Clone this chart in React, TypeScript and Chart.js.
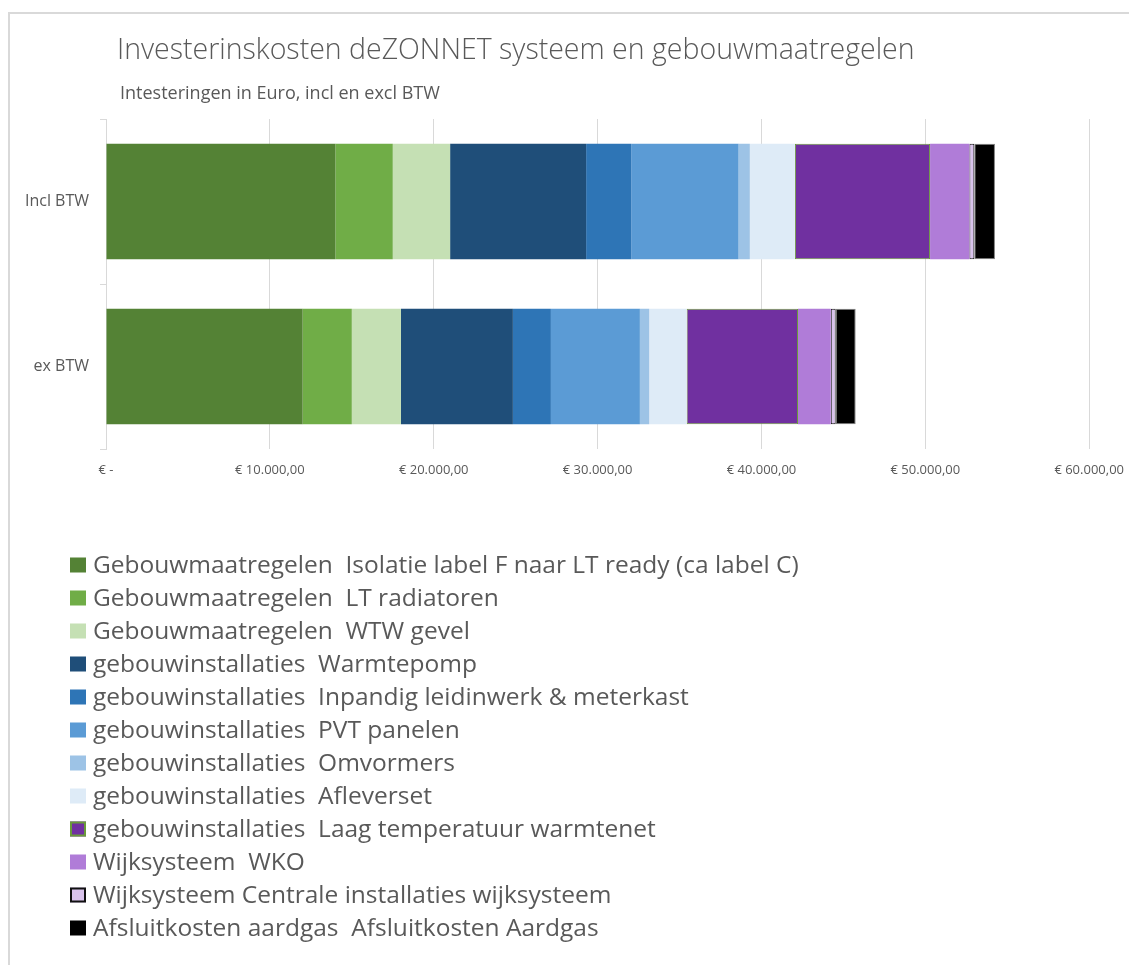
import React, { useEffect, useRef } from "react";
import { Chart, registerables } from "chart.js";

Chart.register(...registerables);

const titleText = "Investerinskosten deZONNET systeem en gebouwmaatregelen";
const subtitleText = "Intesteringen in Euro, incl en excl BTW";

const categories = ["Incl BTW", "ex BTW"];

const seriesLabels = [
  "Gebouwmaatregelen  Isolatie label F naar LT ready (ca label C)",
  "Gebouwmaatregelen  LT radiatoren",
  "Gebouwmaatregelen  WTW gevel",
  "gebouwinstallaties  Warmtepomp",
  "gebouwinstallaties  Inpandig leidinwerk & meterkast",
  "gebouwinstallaties  PVT panelen",
  "gebouwinstallaties  Omvormers",
  "gebouwinstallaties  Afleverset",
  "gebouwinstallaties  Laag temperatuur warmtenet",
  "Wijksysteem  WKO",
  "Wijksysteem Centrale installaties wijksysteem",
  "Afsluitkosten aardgas  Afsluitkosten Aardgas",
];

const isolatie = [14000, 12000];
const ltRadiatoren = [3500, 3000];
const wtwGevel = [3500, 3000];
const warmtepomp = [8300, 6830];
const inpandig = [2750, 2320];
const pvtPanelen = [6550, 5430];
const omvormers = [690, 570];
const afleverset = [2750, 2280];
const warmtenet = [8250, 6800];
const wko = [2400, 2000];
const centrale = [300, 300];
const afsluitkosten = [1260, 1220];

const seriesValues = [
  isolatie, ltRadiatoren, wtwGevel, warmtepomp, inpandig, pvtPanelen,
  omvormers, afleverset, warmtenet, wko, centrale, afsluitkosten,
];

const seriesColors = [
  "#548235", "#70AD47", "#C5E0B4", "#1F4E79", "#2E75B6", "#5B9BD5",
  "#9DC3E6", "#DEEBF7", "#7030A0", "#B07CD8", "#D9C3EC", "#000000",
];
const seriesBorders = [
  null, null, null, null, null, null, null, null, "#6A9A3A", null, "#111111", "#7F7F7F",
];

const xTickValues = [0, 10000, 20000, 30000, 40000, 50000, 60000];
const xTickLabels = ["€ -", "€ 10.000,00", "€ 20.000,00", "€ 30.000,00", "€ 40.000,00", "€ 50.000,00", "€ 60.000,00"];

const TEXT = "#595959";
const GRID = "#D9D9D9";
const FONT = "'Open Sans', 'Noto Sans', sans-serif";

const decorPlugin = {
  id: "decor",
  afterDraw(chart: any) {
    const ctx = chart.ctx as CanvasRenderingContext2D;
    ctx.save();
    ctx.fillStyle = TEXT;
    ctx.textAlign = "left";
    ctx.textBaseline = "alphabetic";
    ctx.font = `300 28.5px ${FONT}`;
    ctx.fillText(titleText, 109, 51);
    ctx.font = `400 18px ${FONT}`;
    ctx.fillText(subtitleText, 112, 91);

    // legend
    const ds = chart.data.datasets;
    ctx.font = `400 24.5px ${FONT}`;
    ctx.textBaseline = "middle";
    for (let i = 0; i < ds.length; i++) {
      const cy = 557 + i * 33;
      const bx = 62, bw = 16, bh = 15;
      ctx.fillStyle = ds[i].backgroundColor;
      ctx.fillRect(bx, cy - bh / 2, bw, bh);
      const b = seriesBorders[i];
      if (b && i !== 11) {
        ctx.strokeStyle = b;
        ctx.lineWidth = 2;
        ctx.strokeRect(bx + 1, cy - bh / 2 + 1, bw - 2, bh - 2);
      }
      ctx.fillStyle = TEXT;
      ctx.fillText(ds[i].label, 85, cy + 1);
    }
    ctx.restore();
  },
};

export default function App() {
  const ref = useRef<HTMLCanvasElement>(null);
  useEffect(() => {
    document.documentElement.style.overflow = "hidden";
    document.body.style.overflow = "hidden";
    const canvas = ref.current!;
    const chart = new Chart(canvas, {
      type: "bar",
      data: {
        labels: categories,
        datasets: seriesLabels.map((label, i) => ({
          label,
          data: seriesValues[i],
          backgroundColor: seriesColors[i],
          borderColor: seriesBorders[i] || seriesColors[i],
          borderWidth: seriesBorders[i] ? 1 : 0,
          borderSkipped: false,
          barPercentage: 0.7,
          categoryPercentage: 1.0,
        })),
      },
      options: {
        indexAxis: "y",
        responsive: false,
        animation: false,
        layout: { padding: { top: 111, right: 47, left: 0, bottom: 476 } },
        plugins: {
          legend: { display: false },
          title: { display: false },
          tooltip: { enabled: false },
        },
        scales: {
          x: {
            stacked: true,
            min: 0,
            max: 60000,
            afterBuildTicks: (scale: any) => {
              scale.ticks = xTickValues.map((v) => ({ value: v }));
            },
            afterFit: (scale: any) => {
              scale.height = 40;
            },
            grid: { color: GRID, lineWidth: 1, drawTicks: false },
            border: { display: false },
            ticks: {
              padding: 13,
              color: TEXT,
              font: { family: FONT, size: 13 },
              callback: (v: any) => {
                const idx = xTickValues.indexOf(Number(v));
                return idx >= 0 ? xTickLabels[idx] : "";
              },
            },
          },
          y: {
            stacked: true,
            afterFit: (scale: any) => {
              scale.width = 98;
            },
            grid: {
              display: true,
              drawOnChartArea: false,
              drawTicks: true,
              tickLength: 6,
              color: GRID,
              offset: true,
            },
            border: { display: true, color: GRID, width: 1 },
            ticks: {
              padding: 11,
              color: TEXT,
              font: { family: FONT, size: 16 },
            },
          },
        },
      },
      plugins: [decorPlugin],
    });
    return () => chart.destroy();
  }, []);

  return (
    <div style={{ position: "relative", width: 1129, height: 957 }}>
      <div
        style={{
          position: "absolute",
          left: 0,
          top: 4,
          width: 1129,
          height: 953,
          borderLeft: "2px solid #D9D9D9",
          borderTop: "2px solid #D9D9D9",
          boxSizing: "border-box",
        }}
      />
      <canvas
        ref={ref}
        width={1129}
        height={957}
        style={{ position: "absolute", left: 0, top: 0, width: 1129, height: 957 }}
      />
    </div>
  );
}
